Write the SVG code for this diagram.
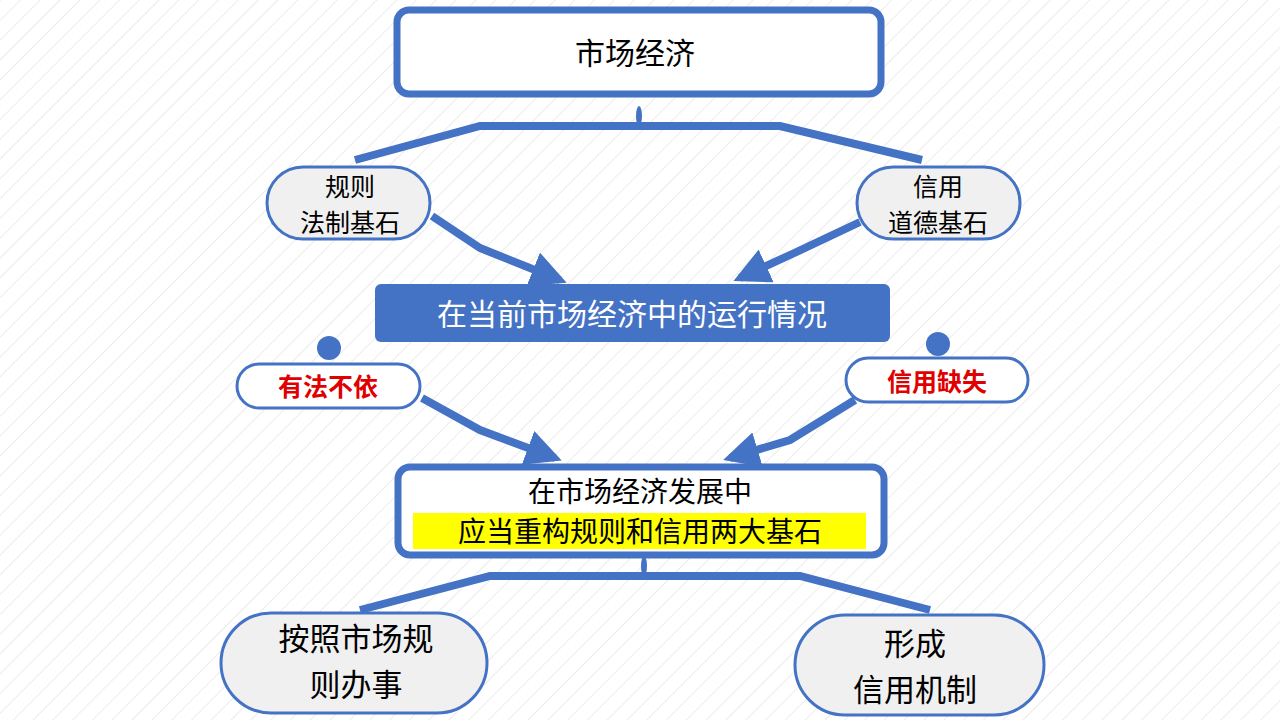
<svg xmlns="http://www.w3.org/2000/svg" width="1280" height="720" viewBox="0 0 1280 720">
<defs>
<pattern id="hatch" width="14" height="14" patternUnits="userSpaceOnUse" patternTransform="rotate(45)">
<rect width="14" height="14" fill="#ffffff"/>
<line x1="0" y1="0" x2="0" y2="14" stroke="#e6e6e6" stroke-width="1.5"/>
</pattern>
<marker id="ah" viewBox="0 0 10 10" refX="8" refY="5" markerWidth="4.5" markerHeight="4.5" markerUnits="strokeWidth" orient="auto">
<path d="M0,0 L10,5 L0,10 Z" fill="#4472c4"/>
</marker>
</defs>
<style>
.box{fill:#ffffff;stroke:#4472c4;stroke-width:7}
.pill{fill:#f0f0f0;stroke:#4472c4;stroke-width:3}
.pillw{fill:#ffffff;stroke:#4472c4;stroke-width:3}
.t{font-family:"Noto Sans CJK SC","Noto Sans",sans-serif;fill:#000;text-anchor:middle}
.red{fill:#e00000;font-weight:bold}
.c{fill:none;stroke:#4472c4;stroke-width:8}
.a{fill:none;stroke:#4472c4;stroke-width:8;marker-end:url(#ah)}
</style>
<rect width="1280" height="720" fill="url(#hatch)"/>
<g id="connectors">
<path class="c" d="M355,160 L480,126 L780,126 L922,160"/>
<ellipse cx="639" cy="116" rx="3" ry="10" fill="#4472c4"/>
<path class="a" d="M432,216 L480,248 L560,280"/>
<path class="a" d="M860,222 L790,255 L740,278"/>
<path class="a" d="M422,398 L480,430 L555,458"/>
<path class="a" d="M855,400 L790,440 L730,458"/>
<path class="c" d="M360,610 L490,576 L800,576 L930,610"/>
<ellipse cx="644" cy="566" rx="3" ry="10" fill="#4472c4"/>
<circle cx="329" cy="348" r="12" fill="#4472c4"/>
<circle cx="938" cy="344" r="12" fill="#4472c4"/>
</g>
<g id="n1"><rect class="box" x="397" y="10" width="484" height="84" rx="12"/><text class="t" x="635" y="64" font-size="30">市场经济</text></g>
<g id="n2"><rect class="pill" x="267" y="167" width="163" height="72" rx="36"/><text class="t" x="350" y="196" font-size="25">规则</text><text class="t" x="350" y="232" font-size="25">法制基石</text></g>
<g id="n3"><rect class="pill" x="857" y="167" width="163" height="72" rx="36"/><text class="t" x="938" y="196" font-size="25">信用</text><text class="t" x="938" y="232" font-size="25">道德基石</text></g>
<g id="n4"><rect x="375" y="284" width="515" height="58" rx="6" fill="#4472c4"/><text class="t" x="632" y="325" font-size="30" fill="#fff" style="fill:#fff">在当前市场经济中的运行情况</text></g>
<g id="n5"><rect class="pillw" x="237" y="364" width="183" height="44" rx="22"/><text class="t red" x="328" y="396" font-size="25">有法不依</text></g>
<g id="n6"><rect class="pillw" x="846" y="358" width="182" height="44" rx="22"/><text class="t red" x="937" y="391" font-size="25">信用缺失</text></g>
<g id="n7"><rect class="box" x="398" y="467" width="486" height="88" rx="12"/>
<rect x="413" y="513" width="453" height="36" fill="#ffff00"/>
<text class="t" x="640" y="502" font-size="28">在市场经济发展中</text><text class="t" x="640" y="542" font-size="28">应当重构规则和信用两大基石</text></g>
<g id="n8"><rect class="pill" x="221" y="613" width="266" height="100" rx="50"/><text class="t" x="356" y="650" font-size="31">按照市场规</text><text class="t" x="356" y="696" font-size="31">则办事</text></g>
<g id="n9"><rect class="pill" x="795" y="615" width="249" height="100" rx="50"/><text class="t" x="915" y="655" font-size="31">形成</text><text class="t" x="915" y="701" font-size="31">信用机制</text></g>
</svg>
